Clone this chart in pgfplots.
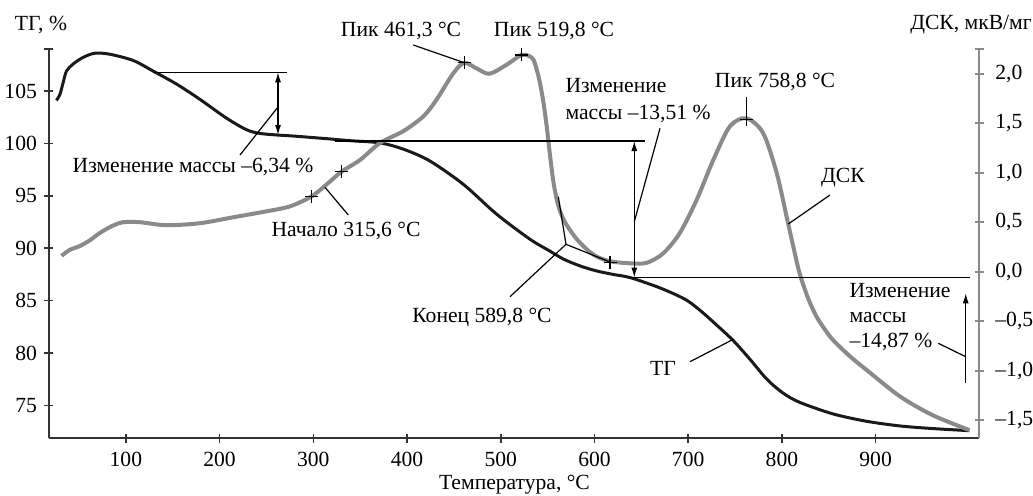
\documentclass[border=0pt]{standalone}
\usepackage{pgfplots}
\pgfplotsset{compat=1.18}
\usepackage{fontspec}
\setmainfont{Liberation Serif}
\usetikzlibrary{arrows.meta}
\definecolor{tgc}{HTML}{1A1A1A}
\definecolor{dscc}{HTML}{8A8A8A}
\definecolor{axc}{HTML}{333333}
\definecolor{raxc}{HTML}{8A8A8A}
\begin{document}
\fontsize{10.8}{12.9}\selectfont
\begin{tikzpicture}
\useasboundingbox (-24.5pt,-28.5pt) rectangle (492pt,219pt);
\begin{axis}[
  at={(0,0)}, anchor=south west, scale only axis,
  width=465.15pt, height=194.5pt,
  xmin=18, xmax=1010.6, ymin=71.9, ymax=109,
  axis x line*=bottom, axis y line*=left,
  axis line style={-, line width=1pt, color=axc},
  xtick={100,200,...,900}, ytick={75,80,...,105},
  extra y ticks={109}, extra y tick labels={},
  tick align=center, major tick length=4.5pt,
  tick style={line width=0.8pt, color=axc},
  /pgf/number format/assume math mode=true,
  xticklabel style={yshift=-1pt},
  clip=false,
]
\addplot[tgc, line width=1.5pt, smooth] coordinates {
(25.9,104.1) (29.6,104.65) (33.1,105.8) (36.7,106.9) (43.8,107.57) (54.4,108.2) (67,108.6) (83,108.5) (108,107.9) (129,106.9) (154,105.66) (179,104.2) (207.5,102.4) (228.8,101.3) (243,100.95) (261,100.8) (278.5,100.7) (314,100.45) (340,100.25) (371,100.05) (396,99.45) (424,98.34) (460,96.1) (495.6,93.25) (531,90.87) (552,89.75) (567,88.96) (585,88.3) (602,87.84) (620,87.5) (638,87.2) (666,86.35) (686,85.6) (700,84.95) (715,83.9) (730,82.7) (748,81.2) (766,79.4) (784,77.5) (801,76.2) (819,75.3) (854.5,74.2) (890,73.5) (926,73.05) (961,72.8) (1000,72.6)
};
\end{axis}
\begin{axis}[
  at={(0,0)}, anchor=south west, scale only axis,
  width=465.15pt, height=194.5pt,
  xmin=18, xmax=1010.6, ymin=-1.68, ymax=2.25,
  axis x line=none, axis y line*=right,
  axis line style={-, line width=1pt, color=raxc},
  ytick={-1.5,-1,-0.5,0,0.5,1,1.5,2},
  yticklabels={{–1,5},{–1,0},{–0,5},{0,0},{0,5},{1,0},{1,5},{2,0}},
  extra y ticks={2.25}, extra y tick labels={},
  tick align=center, major tick length=4.5pt,
  tick style={line width=0.8pt, color=raxc},
  yticklabel style={xshift=2pt},
  clip=false,
]
\addplot[dscc, line width=2pt, smooth] coordinates {
(31.4,0.16) (40,0.22) (51,0.26) (62,0.32) (72,0.39) (85,0.46) (97,0.50) (115,0.50) (143,0.47) (179,0.49) (214.5,0.55) (250,0.61) (275,0.66) (298,0.76) (314,0.88) (330,1.01) (350,1.13) (371,1.30) (396,1.42) (417.5,1.57) (431.6,1.74) (449,2.0) (461,2.11) (475,2.05) (488,2.0) (506,2.09) (522,2.19) (530,2.18) (535,2.14) (539,2.02) (542,1.90) (545.4,1.72) (549,1.47) (552.5,1.18) (556,0.92) (559.5,0.74) (563,0.62) (568,0.51) (574,0.42) (581,0.33) (588,0.26) (595,0.20) (602,0.155) (611,0.12) (620,0.10) (638,0.085) (655.7,0.09) (673.4,0.186) (691,0.39) (709,0.725) (726.8,1.13) (744.6,1.47) (762.2,1.55) (780,1.40) (794.5,0.995) (805,0.556) (812,0.26) (819,-0.02) (828,-0.27) (837,-0.455) (846,-0.585) (854.5,-0.69) (872,-0.85) (890,-0.99) (926,-1.26) (961,-1.45) (1000,-1.60)
};
\addplot[only marks, mark=+, mark size=3.25pt, black, mark options={line width=0.6pt}] coordinates {
(298,0.76) (330,1.01) (461,2.11) (522,2.19) (616.6,0.095) (762.3,1.54)
};
\end{axis}
\begin{scope}[shift={(-24.5pt,219pt)}, x=0.5pt, y=-0.5pt, line width=0.6pt, black]
% axis titles
\node[inner sep=0] at (41,25) {ТГ, \%};
\node[inner sep=0] at (971,25) {ДСК, мкВ/мг};
\node[inner sep=0] at (514.5,485) {Температура, °C};
% mass change 1
\draw (153,72.3) -- (287,72.3);
\draw[{Latex[length=5pt,width=3pt]}-{Latex[length=5pt,width=3pt]}] (278,72.3) -- (278,135);
\draw (240,155) -- (278,107);
\node[inner sep=0] at (193,167) {Изменение массы –6,34 \%};
% onset
\draw (325,187.3) -- (348.3,215);
\node[inner sep=0] at (346,231) {Начало 315,6 °C};
% peaks
\node[inner sep=0] at (401,31) {Пик 461,3 °C};
\draw (413.3,45) -- (464.3,62.7);
\node[inner sep=0] at (554,31) {Пик 519,8 °C};
\node[inner sep=0] at (775,82) {Пик 758,8 °C};
\draw (746.7,96.7) -- (746.7,119);
% mass change 2
\draw (335,141) -- (645,141);
\draw[{Latex[length=5pt,width=3pt]}-{Latex[length=5pt,width=3pt]}] (634.3,141) -- (634.3,277.5);
\draw (634.3,221.7) -- (660,128.3);
\node[inner sep=0, anchor=west, align=left] at (565,101) {Изменение\\[0.6pt]массы –13,51 \%};
% end
\draw (558.3,196.7) -- (566,244.3) -- (610,262);
\draw (566,244.3) -- (510,296.7);
\node[inner sep=0] at (482,317) {Конец 589,8 °C};
% mass change 3
\draw (630,277.5) -- (970,277.5);
\draw[-{Latex[length=5pt,width=3pt]}] (965.7,383.3) -- (965.7,293.3);
\draw (965.7,356.7) -- (938.3,343.3);
\node[inner sep=0, anchor=west, align=left] at (849,317) {Изменение\\[-0.6pt]массы\\[-0.6pt]–14,87 \%};
% curve labels
\node[inner sep=0] at (843,178) {ДСК};
\draw (788.3,224) -- (830,195);
\node[inner sep=0] at (663,368) {ТГ};
\draw (690,361.7) -- (733.3,339.3);
\end{scope}
\end{tikzpicture}
\end{document}
